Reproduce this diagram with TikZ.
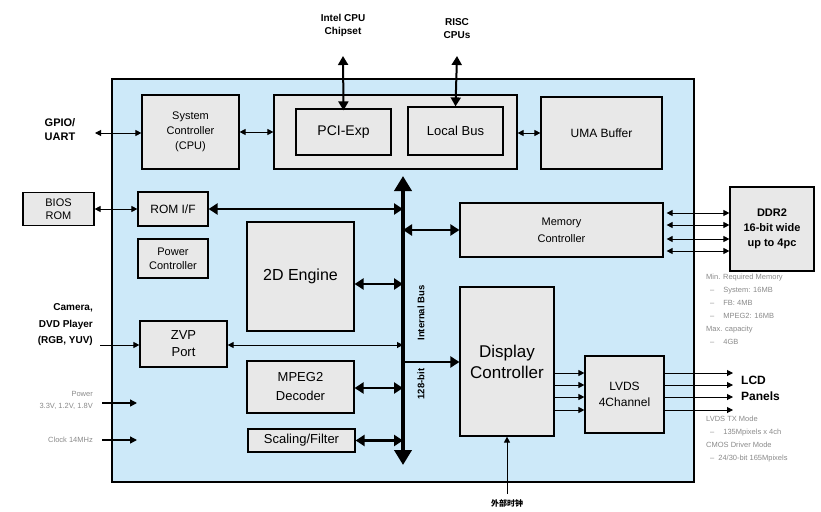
\documentclass[tikz,border=0pt]{standalone}
\usepackage{fontspec}
\setmainfont{Liberation Sans}
\newfontfamily\cjk{Noto Sans CJK SC}
\usetikzlibrary{arrows.meta}
\definecolor{chipblue}{HTML}{CDE9F9}
\definecolor{boxgray}{HTML}{E8E8E8}
\definecolor{notegray}{HTML}{8A8A8A}
\newcommand{\fs}[2]{\fontsize{#1}{#2}\selectfont}
\tikzset{
  box/.style={draw=black, line width=1.2pt, fill=boxgray, align=center, inner sep=1pt},
  sm/.style={line width=1pt, -{Triangle[length=6pt,width=6pt]}},
  smb/.style={line width=1pt, {Triangle[length=6pt,width=6pt]}-{Triangle[length=6pt,width=6pt]}},
  thk/.style={line width=2.4pt, {Triangle[length=9pt,width=11pt]}-{Triangle[length=9pt,width=11pt]}},
  thkone/.style={line width=2.4pt, -{Triangle[length=9pt,width=11pt]}},
  vert/.style={line width=2pt, {Triangle[length=9pt,width=10pt]}-{Triangle[length=9pt,width=10pt]}},
  busline/.style={line width=4pt, {Triangle[length=15pt,width=17pt]}-{Triangle[length=15pt,width=17pt]}},
  ext/.style={font=\bfseries\fs{10}{13}, align=center, inner sep=0pt},
  note/.style={text=notegray, font=\fs{7.5}{13}, align=left, inner sep=0pt, anchor=north west},
}
\begin{document}
\begin{tikzpicture}[x=1pt,y=-1pt]
\useasboundingbox (0,0) rectangle (821,511);
% main chip
\node[draw=black, line width=1.5pt, fill=chipblue, minimum width=582pt, minimum height=403pt, inner sep=0pt] (chip) at (403,280.5) {};

% boxes
\node[box, minimum width=97pt, minimum height=74pt, font=\fs{11}{15}] (sysctl) at (190.5,132) {System\\Controller\\(CPU)};
\node[box, minimum width=243pt, minimum height=74pt] (pcigrp) at (395.5,132) {};
\node[box, minimum width=95pt, minimum height=46pt, font=\fs{14}{15}] (pciexp) at (343.5,132) {PCI-Exp};
\node[box, minimum width=95pt, minimum height=48pt, font=\fs{13}{15}] (localbus) at (455.5,131) {Local Bus};
\node[box, minimum width=121pt, minimum height=72pt, font=\fs{12}{13}] (uma) at (601.5,133) {UMA Buffer};
\node[box, minimum width=71pt, minimum height=33pt, font=\fs{11}{13}] (bios) at (58.5,209) {BIOS\\ROM};
\node[box, minimum width=70pt, minimum height=34pt, font=\fs{12}{13}] (romif) at (173,209) {ROM I/F};
\node[box, minimum width=70pt, minimum height=39pt, font=\fs{11}{14}] (power) at (173,258.5) {Power\\Controller};
\node[box, minimum width=107pt, minimum height=109pt, font=\fs{16}{19}] (eng) at (300.5,276.5) {2D Engine};
\node[box, minimum width=203pt, minimum height=54pt, font=\fs{11}{17}] (memctl) at (561.5,230) {Memory\\Controller};
\node[box, minimum width=84pt, minimum height=84pt, font=\bfseries\fs{11}{15}] (ddr) at (772,229) {DDR2\\16-bit wide\\up to 4pc};
\node[box, minimum width=87pt, minimum height=46pt, font=\fs{13}{17}] (zvp) at (183.5,344) {ZVP\\Port};
\node[box, minimum width=107pt, minimum height=52pt, font=\fs{13}{19}] (mpeg) at (300.5,387) {MPEG2\\Decoder};
\node[box, minimum width=107pt, minimum height=23pt, font=\fs{13}{14}] (scal) at (301.5,440.5) {Scaling/Filter};
\node[box, minimum width=94pt, minimum height=149pt, font=\fs{17}{21}] (disp) at (507,361.5) {Display\\Controller};
\node[box, minimum width=79pt, minimum height=77pt, font=\fs{12}{16}] (lvds) at (624.5,394.5) {LVDS\\4Channel};

% internal bus
\coordinate (bustop) at (403,176);
\coordinate (busbot) at (403,465);
\draw[busline] (busbot) -- (bustop);
\node[rotate=90, font=\bfseries\fs{9.5}{11}, inner sep=0pt] (buslbl) at (421,313) {Internal Bus};
\node[rotate=90, font=\bfseries\fs{9.5}{11}, inner sep=0pt] (buswidth) at (421,384) {128-bit};

% external labels
\node[ext] (intel) at (343,25) {Intel CPU\\Chipset};
\node[ext] (risc) at (457,29) {RISC\\CPUs};
\node[ext, font=\bfseries\fs{11}{14}] (gpio) at (60,130) {GPIO/\\UART};
\node[ext, align=right, anchor=east, font=\bfseries\fs{10}{16.5}] (cam) at (93,325) {Camera,\\DVD Player\\(RGB, YUV)};
\node[ext, align=left, anchor=west, font=\bfseries\fs{12}{16}] (lcd) at (741,388) {LCD\\Panels};
\node[text=notegray, font=\fs{7.5}{12}, align=right, anchor=east, inner sep=0pt] (pwrlbl) at (93,400) {Power\\3.3V, 1.2V, 1.8V};
\node[text=notegray, font=\fs{7.5}{12}, anchor=east, inner sep=0pt] (clklbl) at (93,440) {Clock 14MHz};
\node[font=\cjk\bfseries\fs{8}{10}, inner sep=0pt] (ext) at (507,503) {外部时钟};

% notes
\node[note] (memnote) at (706,274) {Min. Required Memory\\
\hspace*{4pt}–\hspace*{9pt}System: 16MB\\
\hspace*{4pt}–\hspace*{9pt}FB: 4MB\\
\hspace*{4pt}–\hspace*{9pt}MPEG2: 16MB\\
Max. capacity\\
\hspace*{4pt}–\hspace*{9pt}4GB};
\node[note] (lvdsnote) at (706,416) {LVDS TX Mode\\
\hspace*{4pt}–\hspace*{9pt}135Mpixels x 4ch\\
CMOS Driver Mode\\
\hspace*{4pt}–\hspace*{4pt}24/30-bit 165Mpixels};

% top arrows
\coordinate (intelend) at (343,56);
\coordinate (riscend) at (457,56);
\draw[vert] (intelend) -- ([yshift=-2pt]pciexp.north);
\draw[vert] (riscend) -- (localbus.north);

% left side connectors
\coordinate (gpioend) at (95,133);
\draw[smb] (gpioend) -- (gpioend -| sysctl.west);
\draw[smb] (sysctl.east) -- (sysctl.east -| pcigrp.west);
\draw[smb] (pcigrp.east |- uma.west) -- (uma.west);
\draw[smb] (bios.east) -- (romif.west);
\draw[thk] (romif.east) -- (romif.east -| bustop);
\coordinate (camend) at (100,345);
\draw[sm] (camend) -- (camend -| zvp.west);
\draw[smb] (zvp.east |- camend) -- (camend -| bustop);
\coordinate (pwrstart) at (102,403);
\coordinate (pwrend) at (137,403);
\draw[line width=1.4pt, -{Triangle[length=7pt,width=7pt]}] (pwrstart) -- (pwrend);
\coordinate (clkstart) at (102,440);
\coordinate (clkend) at (137,440);
\draw[line width=1.4pt, -{Triangle[length=7pt,width=7pt]}] (clkstart) -- (clkend);

% bus connectors
\draw[thk] (eng.east |- 0,284) -- (bustop |- 0,284);
\draw[thk] (mpeg.east |- 0,388) -- (bustop |- 0,388);
\draw[thk] (scal.east) -- (scal.east -| bustop);
\draw[thk] (bustop |- memctl.west) -- (memctl.west);
\draw[thkone] (bustop |- 0,362) -- (disp.west |- 0,362);

% memory lines
\foreach \yy in {213,225,239,251}{
  \draw[smb] ([xshift=3pt]memctl.east |- 0,\yy) -- (ddr.west |- 0,\yy);
}
% display to lvds, lvds to lcd
\coordinate (lcdx) at (733,0);
\foreach \yy in {373,385,397,410}{
  \draw[sm] (disp.east |- 0,\yy) -- (lvds.west |- 0,\yy);
  \draw[sm] (lvds.east |- 0,\yy) -- (lcdx |- 0,\yy);
}
% external clock to display
\coordinate (extend) at (507,494);
\draw[sm] (extend) -- (disp.south);
\end{tikzpicture}
\end{document}
